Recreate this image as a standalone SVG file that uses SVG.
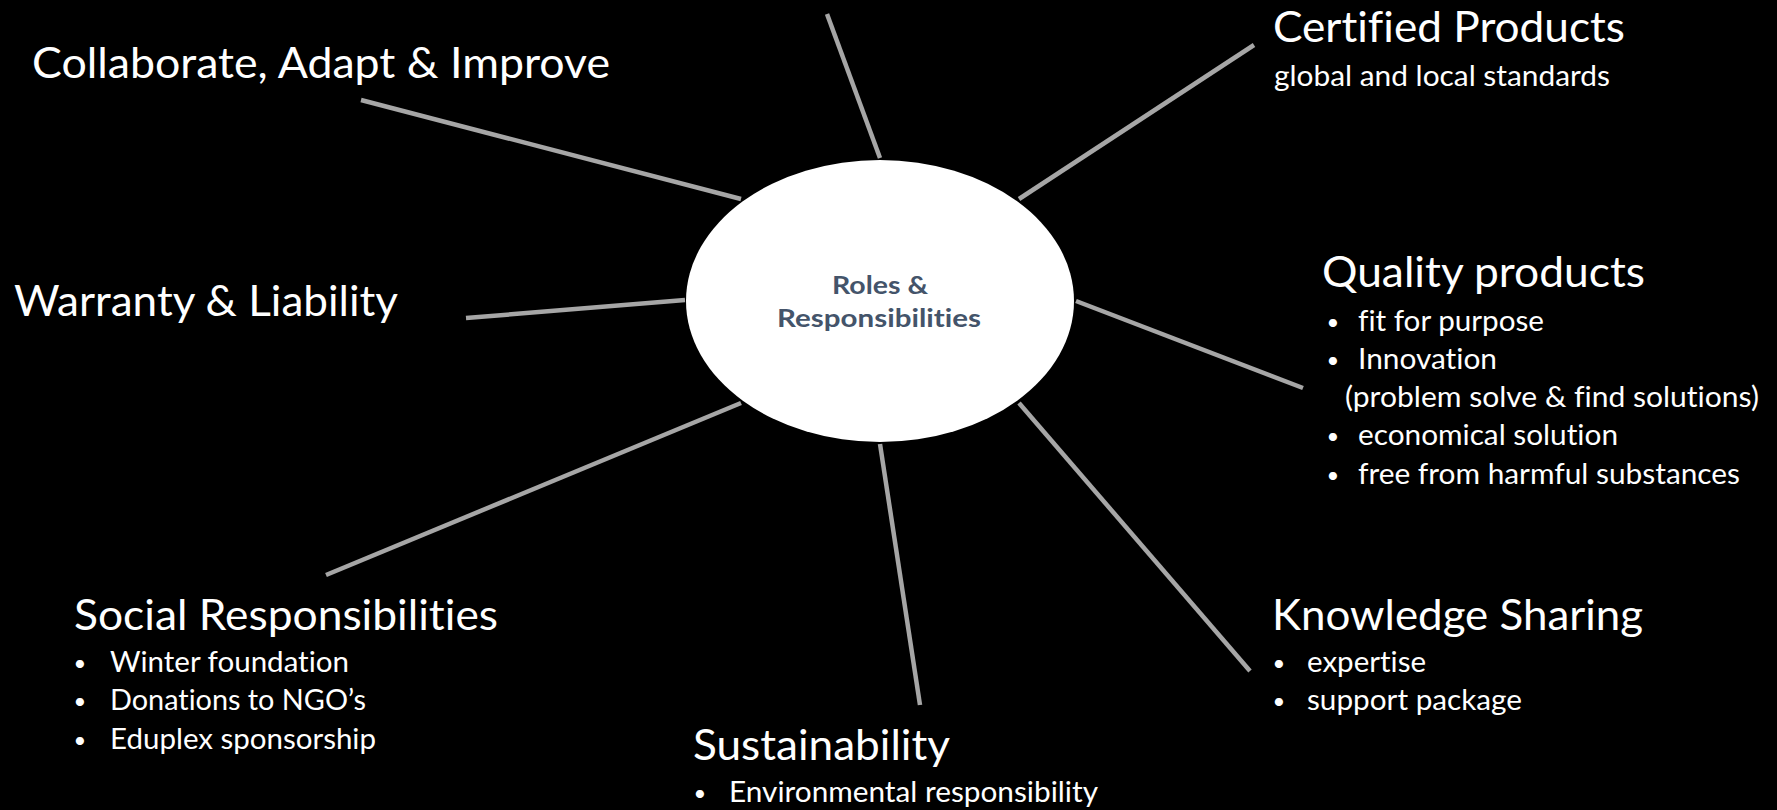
<svg xmlns="http://www.w3.org/2000/svg" width="1777" height="810" viewBox="0 0 1777 810">
<style>
  .bg { fill: #000000; }
  .conn { stroke: #A6A6A6; stroke-width: 4.5; stroke-linecap: butt; fill: none; }
  .hub { fill: #FFFFFF; }
  text { font-variant-ligatures: none; }
  .hubtxt { font-family: Lato, "Open Sans", sans-serif; font-weight: 700; font-size: 24.5px; fill: #44546A; text-anchor: middle; }
  .head { font-family: Lato, "Open Sans", sans-serif; font-size: 43px; fill: #FFFFFF; }
  .item { font-family: Lato, "Open Sans", sans-serif; font-size: 28.5px; fill: #FFFFFF; }
  .dot { font-family: Lato, "Open Sans", sans-serif; font-size: 22px; fill: #FFFFFF; text-anchor: middle; }
</style>
<rect class="bg" x="0" y="0" width="1777" height="810"/>

<g id="connectors">
  <line class="conn" x1="827" y1="14" x2="880" y2="158"/>
  <line class="conn" x1="361" y1="100" x2="741" y2="199"/>
  <line class="conn" x1="466" y1="318" x2="685" y2="300"/>
  <line class="conn" x1="326" y1="575" x2="741" y2="403"/>
  <line class="conn" x1="880" y1="444" x2="920" y2="705"/>
  <line class="conn" x1="1019" y1="403" x2="1250" y2="671"/>
  <line class="conn" x1="1076" y1="301" x2="1303" y2="388"/>
  <line class="conn" x1="1019" y1="199" x2="1254" y2="45"/>
</g>

<g id="node-center">
  <ellipse class="hub" cx="880" cy="301" rx="194" ry="141"/>
  <text class="hubtxt" x="880" y="294" textLength="96" lengthAdjust="spacingAndGlyphs">Roles &amp;</text>
  <text class="hubtxt" x="879" y="327" textLength="204" lengthAdjust="spacingAndGlyphs">Responsibilities</text>
</g>

<g id="node-collaborate">
  <text class="head" x="32" y="78" textLength="578" lengthAdjust="spacingAndGlyphs">Collaborate, Adapt &amp; Improve</text>
</g>

<g id="node-warranty">
  <text class="head" x="14" y="316" textLength="384" lengthAdjust="spacingAndGlyphs">Warranty &amp; Liability</text>
</g>

<g id="node-certified">
  <text class="head" x="1273" y="42" textLength="352" lengthAdjust="spacingAndGlyphs">Certified Products</text>
  <text class="item" x="1274" y="86" textLength="336" lengthAdjust="spacingAndGlyphs">global and local standards</text>
</g>

<g id="node-quality">
  <text class="head" x="1322" y="287" textLength="323" lengthAdjust="spacingAndGlyphs">Quality products</text>
  <text class="dot" x="1333" y="330">•</text>
  <text class="item" x="1358" y="331" textLength="186" lengthAdjust="spacingAndGlyphs">fit for purpose</text>
  <text class="dot" x="1333" y="368">•</text>
  <text class="item" x="1358" y="369" textLength="139" lengthAdjust="spacingAndGlyphs">Innovation</text>
  <text class="item" x="1345" y="407" textLength="414" lengthAdjust="spacingAndGlyphs">(problem solve &amp; find solutions)</text>
  <text class="dot" x="1333" y="444">•</text>
  <text class="item" x="1358" y="445" textLength="260" lengthAdjust="spacingAndGlyphs">economical solution</text>
  <text class="dot" x="1333" y="483">•</text>
  <text class="item" x="1358" y="484" textLength="382" lengthAdjust="spacingAndGlyphs">free from harmful substances</text>
</g>

<g id="node-knowledge">
  <text class="head" x="1272" y="630" textLength="371" lengthAdjust="spacingAndGlyphs">Knowledge Sharing</text>
  <text class="dot" x="1279" y="671">•</text>
  <text class="item" x="1307" y="672" textLength="119" lengthAdjust="spacingAndGlyphs">expertise</text>
  <text class="dot" x="1279" y="709">•</text>
  <text class="item" x="1307" y="710" textLength="215" lengthAdjust="spacingAndGlyphs">support package</text>
</g>

<g id="node-social">
  <text class="head" x="74" y="630" textLength="424" lengthAdjust="spacingAndGlyphs">Social Responsibilities</text>
  <text class="dot" x="80" y="671">•</text>
  <text class="item" x="110" y="672" textLength="239" lengthAdjust="spacingAndGlyphs">Winter foundation</text>
  <text class="dot" x="80" y="709">•</text>
  <text class="item" x="110" y="710" textLength="256" lengthAdjust="spacingAndGlyphs">Donations to NGO’s</text>
  <text class="dot" x="80" y="748">•</text>
  <text class="item" x="110" y="749" textLength="266" lengthAdjust="spacingAndGlyphs">Eduplex sponsorship</text>
</g>

<g id="node-sustainability">
  <text class="head" x="693" y="760" textLength="257" lengthAdjust="spacingAndGlyphs">Sustainability</text>
  <text class="dot" x="700" y="801">•</text>
  <text class="item" x="729" y="802" textLength="369" lengthAdjust="spacingAndGlyphs">Environmental responsibility</text>
</g>
</svg>
